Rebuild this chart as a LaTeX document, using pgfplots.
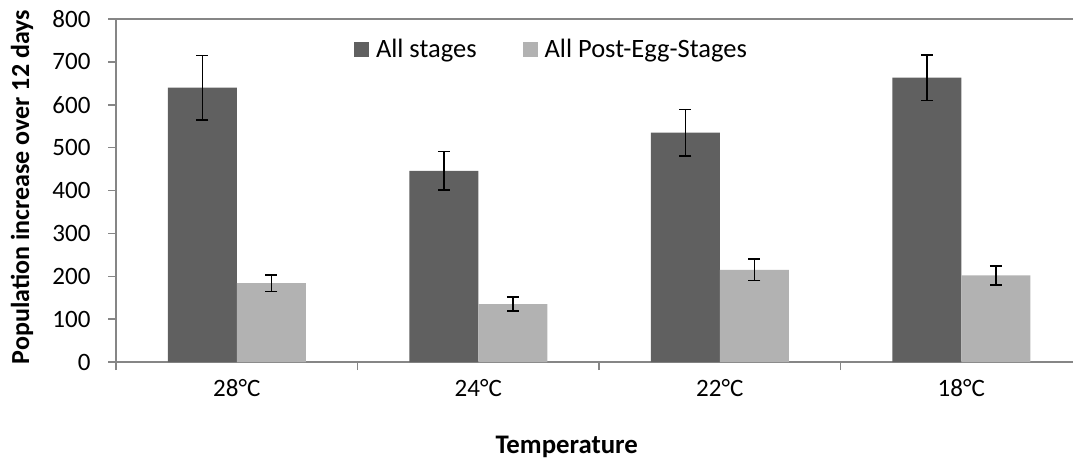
\documentclass[border=0pt]{standalone}
\usepackage{pgfplots}
\pgfplotsset{compat=1.18}
\usepackage{fontspec}
\setmainfont{Carlito}
\definecolor{darkbar}{HTML}{606060}
\definecolor{lightbar}{HTML}{B2B2B2}
\definecolor{axisgray}{HTML}{868686}
\begin{document}
\begin{tikzpicture}[font=\fontsize{25}{30}\selectfont]
\useasboundingbox (0,0) rectangle (1073pt,461pt);
\begin{axis}[
  at={(116pt,99pt)}, anchor=south west,
  width=957pt, height=343pt, scale only axis,
  ybar=0pt, bar width=69pt,
  xmin=-0.5, xmax=3.4627,
  ymin=0, ymax=800, ytick distance=100,
  axis x line*=bottom, axis y line*=left,
  axis line style={draw=axisgray, line width=1.5pt},
  tick align=outside,
  major tick length=8pt, minor tick length=8pt,
  tick style={draw=axisgray, line width=1.5pt},
  xtick={0,1,2,3},
  xticklabels={28°C,24°C,22°C,18°C},
  major x tick style={draw=none},
  minor xtick={-0.5,0.5,1.5,2.5},
  /pgf/number format/assume math mode=true,
  yticklabel style={xshift=-14pt},
  xticklabel style={yshift=-6pt},
  xlabel={\bfseries Temperature},
  xlabel style={at={(axis description cs:0.471,-0.248)}, anchor=center, font=\fontsize{26.8}{30}\selectfont},
  ylabel={\bfseries Population increase over 12 days},
  ylabel style={at={(axis description cs:-0.0982,0.51)}, anchor=center, font=\fontsize{26}{30}\selectfont},
  legend columns=2,
  legend style={draw=none, fill=none, inner sep=0pt, outer sep=0pt,
    font=\fontsize{26.5}{30}\selectfont,
    nodes={inner sep=0pt},
    at={(axis description cs:0.2487,0.9125)}, anchor=west,
    /tikz/every odd column/.append style={column sep=7pt},
    /tikz/every even column/.append style={column sep=46pt}},
  legend image code/.code={\fill[#1] (0pt,-7.5pt) rectangle (15pt,7.5pt);},
  error bars/error bar style={line width=1.5pt, black},
  error bars/error mark options={rotate=90, mark size=6pt, line width=1.5pt, black},
  clip=false,
]
\addplot[fill=darkbar, draw=none,
  error bars/.cd, y dir=both, y explicit]
  coordinates {(0,640) +- (0,75) (1,446) +- (0,45) (2,535) +- (0,54) (3,663) +- (0,53)};
\addlegendentry{All stages}
\addplot[fill=lightbar, draw=none,
  error bars/.cd, y dir=both, y explicit]
  coordinates {(0,184) +- (0,19.5) (1,135) +- (0,16.5) (2,215) +- (0,25) (3,202) +- (0,22)};
\addlegendentry{All Post-Egg-Stages}
\draw[axisgray, line width=1.5pt] (rel axis cs:0,1) -- (rel axis cs:1,1);
\end{axis}
\end{tikzpicture}
\end{document}
